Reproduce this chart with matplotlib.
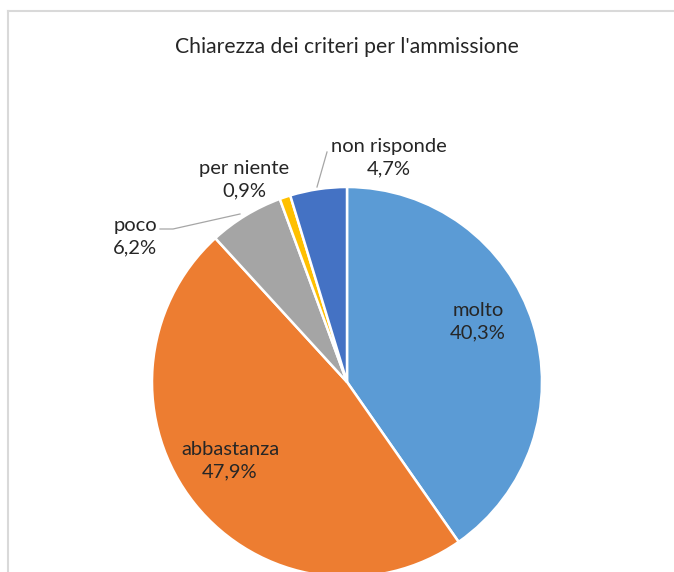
import matplotlib.pyplot as plt
from matplotlib.lines import Line2D

# data
categories = ["molto", "abbastanza", "poco", "per niente", "non risponde"]
percent = [40.3, 47.9, 6.2, 0.9, 4.7]
colors = ["#5B9BD5", "#ED7D31", "#A5A5A5", "#FFC000", "#4472C4"]
title = "Chiarezza dei criteri per l'ammissione"

W, H = 674, 572
# label block centres in pixels (layout only)
label_pos = [(478, 322), (230, 461), (135, 237), (244, 180), (389, 158)]
# leader lines for outside labels, pixel polylines
leaders = [
    [(160, 229), (173, 229), (240, 214)],
    [(327, 152), (317, 187)],
]

plt.rcParams['font.family'] = ['Lato', 'DejaVu Sans']

fig = plt.figure(figsize=(W / 100, H / 100), dpi=100)
ax = fig.add_axes([0, 0, 1, 1])


def py(y):
    return H - y


ax.pie(percent, colors=colors, startangle=90, counterclock=False,
       center=(347, py(382)), radius=195,
       wedgeprops=dict(edgecolor='white', linewidth=1.8))
ax.set_xlim(0, W)
ax.set_ylim(0, H)
ax.set_aspect('equal')
ax.axis('off')

for name, val, (x, y) in zip(categories, percent, label_pos):
    txt = "%s\n%s%%" % (name, ("%.1f" % val).replace('.', ','))
    ax.text(x, py(y), txt, ha='center', va='center', fontsize=14.5,
            color='#262626', linespacing=1.4)

for pts in leaders:
    ax.plot([p[0] for p in pts], [py(p[1]) for p in pts],
            color='#A6A6A6', linewidth=0.9)

ax.text(347, py(47), title, ha='center', va='center', fontsize=15.2,
        color='#262626')

# chart frame (left and top edges visible)
fig.add_artist(Line2D([8 / W, 8 / W], [0, 1 - 11 / H], color='#D9D9D9',
                      linewidth=1.5, transform=fig.transFigure))
fig.add_artist(Line2D([8 / W, 1], [1 - 11 / H, 1 - 11 / H], color='#D9D9D9',
                      linewidth=1.5, transform=fig.transFigure))

fig.savefig("out.png", dpi=100)
